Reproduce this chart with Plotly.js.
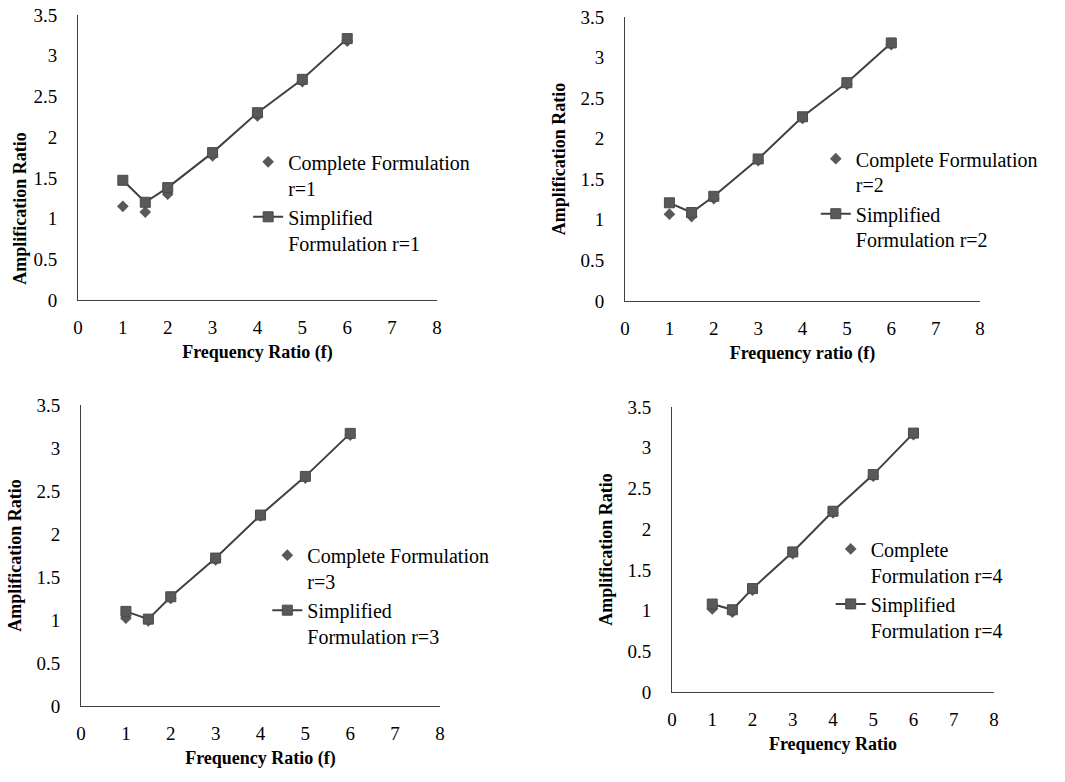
<!DOCTYPE html>
<html>
<head>
<meta charset="utf-8">
<script src="https://cdn.plot.ly/plotly-3.0.1.min.js"></script>
<style>
  html, body { margin: 0; padding: 0; background: #ffffff; }
  #chart { width: 1065px; height: 782px; }
</style>
</head>
<body>
<div id="chart"></div>
<script>
// Frequency ratio sample points shared by all four panels
const freqRatio = [1, 1.5, 2, 3, 4, 5, 6];

// Amplification ratio, complete vs simplified formulation, for r = 1..4
const completeR1   = [1.15, 1.08, 1.30, 1.77, 2.26, 2.68, 3.18];
const simplifiedR1 = [1.47, 1.20, 1.38, 1.81, 2.30, 2.71, 3.21];
const completeR2   = [1.07, 1.04, 1.26, 1.73, 2.25, 2.67, 3.16];
const simplifiedR2 = [1.21, 1.09, 1.29, 1.75, 2.27, 2.69, 3.18];
const completeR3   = [1.02, 0.99, 1.25, 1.70, 2.21, 2.65, 3.15];
const simplifiedR3 = [1.10, 1.01, 1.27, 1.72, 2.22, 2.67, 3.17];
const completeR4   = [1.02, 0.98, 1.25, 1.70, 2.20, 2.65, 3.16];
const simplifiedR4 = [1.08, 1.01, 1.27, 1.72, 2.22, 2.67, 3.18];

// Legend labels per panel
const completeNames = [
  'Complete Formulation<br>r=1',
  'Complete Formulation<br>r=2',
  'Complete Formulation<br>r=3',
  'Complete<br>Formulation r=4'
];
const simplifiedNames = [
  'Simplified<br>Formulation r=1',
  'Simplified<br>Formulation r=2',
  'Simplified<br>Formulation r=3',
  'Simplified<br>Formulation r=4'
];
const xTitles = ['Frequency Ratio (f)', 'Frequency ratio (f)', 'Frequency Ratio (f)', 'Frequency Ratio'];
const yTitle = 'Amplification Ratio';

const completeSets = [completeR1, completeR2, completeR3, completeR4];
const simplifiedSets = [simplifiedR1, simplifiedR2, simplifiedR3, simplifiedR4];

const FONT = '"Liberation Serif", "Times New Roman", serif';
const MARK = '#595959';
const LINE = '#404040';

const traces = [];
for (let i = 0; i < 4; i++) {
  const sfx = i === 0 ? '' : String(i + 1);
  const leg = 'legend' + sfx;
  traces.push({
    type: 'scatter', mode: 'markers',
    x: freqRatio, y: completeSets[i],
    xaxis: 'x' + sfx, yaxis: 'y' + sfx, legend: leg,
    name: completeNames[i],
    marker: { symbol: 'diamond', size: 9, color: MARK },
    hoverinfo: 'x+y'
  });
  traces.push({
    type: 'scatter', mode: 'lines+markers',
    x: freqRatio, y: simplifiedSets[i],
    xaxis: 'x' + sfx, yaxis: 'y' + sfx, legend: leg,
    name: simplifiedNames[i],
    line: { color: LINE, width: 2 },
    marker: { symbol: 'square', size: 10, color: MARK, line: { color: '#4a4a4a', width: 1 } },
    hoverinfo: 'x+y'
  });
}

// Panel placement in paper coordinates: [x0, x1], [y0, y1]
const panels = [
  { x: [0.0732, 0.4103], y: [0.6164, 0.9808] },
  { x: [0.5869, 0.9202], y: [0.6151, 0.9783] },
  { x: [0.0761, 0.4131], y: [0.0972, 0.4821] },
  { x: [0.6310, 0.9333], y: [0.1151, 0.4795] }
];
const legendPos = [
  { x: 0.233, y: 0.818 },
  { x: 0.766, y: 0.822 },
  { x: 0.251, y: 0.315 },
  { x: 0.780, y: 0.323 }
];

const layout = {
  width: 1065, height: 782,
  margin: { l: 0, r: 0, t: 0, b: 0 },
  paper_bgcolor: '#ffffff', plot_bgcolor: '#ffffff',
  font: { family: FONT, color: '#000000', size: 19 },
  hovermode: 'closest',
  annotations: []
};

for (let i = 0; i < 4; i++) {
  const sfx = i === 0 ? '' : String(i + 1);
  layout['xaxis' + sfx] = {
    domain: panels[i].x, anchor: 'y' + sfx,
    range: [0, 8], dtick: 1, tick0: 0,
    showgrid: false, zeroline: false,
    showline: true, linecolor: LINE, linewidth: 1,
    ticks: '', ticklabelstandoff: 10,
    tickfont: { family: FONT, size: 19, color: '#000000' },
    title: {
      text: xTitles[i], standoff: 8,
      font: { family: FONT, size: 18, color: '#000000', weight: 'bold' }
    }
  };
  layout['yaxis' + sfx] = {
    domain: panels[i].y, anchor: 'x' + sfx,
    range: [0, 3.5], dtick: 0.5, tick0: 0,
    showgrid: false, zeroline: false,
    showline: true, linecolor: LINE, linewidth: 1,
    ticks: '', ticklabelstandoff: 16,
    tickfont: { family: FONT, size: 19, color: '#000000' },
    title: i === 0 ? { text: '' } : {
      text: yTitle, standoff: 10,
      font: { family: FONT, size: 18, color: '#000000', weight: 'bold' }
    }
  };
  layout['legend' + sfx] = {
    x: legendPos[i].x, y: legendPos[i].y,
    xanchor: 'left', yanchor: 'top',
    bgcolor: 'rgba(0,0,0,0)', borderwidth: 0,
    valign: 'top',
    font: { family: FONT, size: 20, color: '#000000' },
    tracegroupgap: 0
  };
}

// The first panel's vertical title sits lower than its axis centre
layout.annotations.push({
  text: yTitle, textangle: -90,
  xref: 'paper', yref: 'paper', x: 0.0188, y: 0.733,
  xanchor: 'center', yanchor: 'middle', showarrow: false,
  font: { family: FONT, size: 18, color: '#000000', weight: 'bold' }
});

Plotly.newPlot('chart', traces, layout, { displayModeBar: false });
</script>
</body>
</html>
